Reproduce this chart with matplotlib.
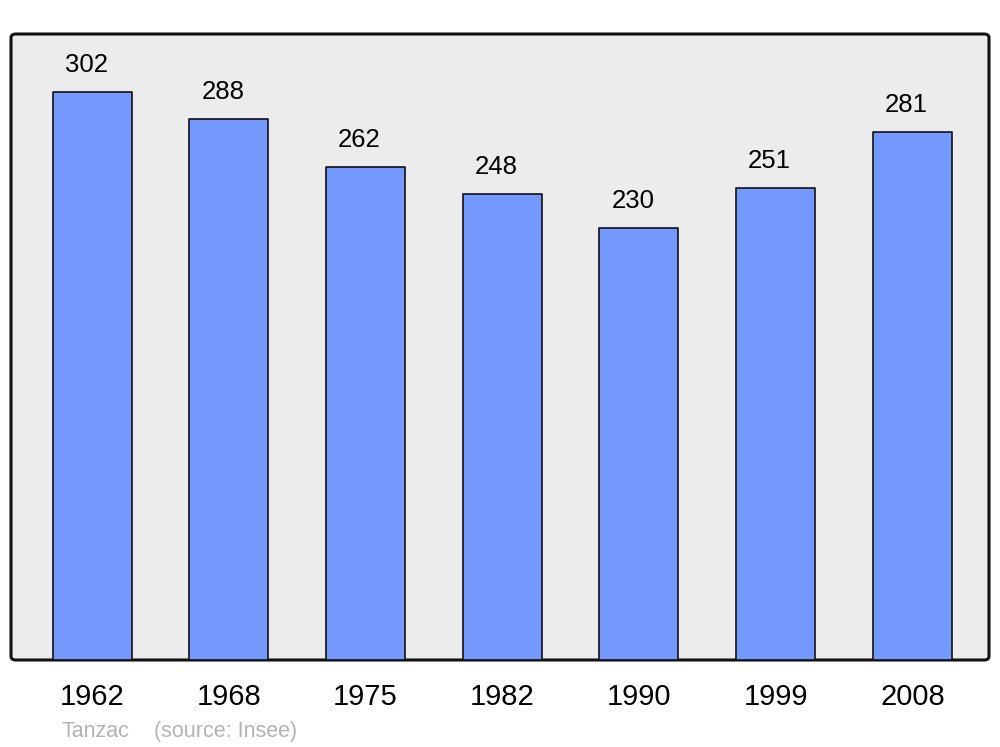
import matplotlib
matplotlib.use("Agg")
import matplotlib.pyplot as plt  # noqa: E402
from matplotlib.patches import FancyBboxPatch  # noqa: E402

plt.rcParams["font.family"] = ["Liberation Sans", "DejaVu Sans"]

years = ["1962", "1968", "1975", "1982", "1990", "1999", "2008"]
population = [302, 288, 262, 248, 230, 251, 281]
commune = "Tanzac"
source = "(source: Insee)"

W, H = 1000, 747
fig = plt.figure(figsize=(W / 100, H / 100), dpi=100)

# cadre gris arrondi
left, right, top, bottom = 11, 989, 34, 660
ax = fig.add_axes([left / W, 1 - bottom / H, (right - left) / W, (bottom - top) / H])
ax.set_facecolor("none")
frame = FancyBboxPatch((left / W, 1 - bottom / H), (right - left) / W, (bottom - top) / H,
                       boxstyle="round,pad=0,rounding_size=0.005",
                       transform=fig.transFigure, facecolor="#ececec",
                       edgecolor="#111111", linewidth=2.2, zorder=-1)
fig.patches.append(frame)

xs = list(range(len(years)))
ax.bar(xs, population, width=0.578, color="#7399ff", edgecolor="#111111",
       linewidth=1.2, joinstyle="round", zorder=2)

for x, v in zip(xs, population):
    ax.annotate(str(v), (x, v), xytext=(-4.3, 19.5), textcoords="offset points",
                ha="center", va="center", fontsize=18.5, color="black")

ax.set_xlim(-0.593, 6.56)
ax.set_ylim(0, 333)
ax.set_xticks(xs)
ax.set_xticklabels(years, fontsize=21)
ax.tick_params(axis="x", length=0, pad=16.5)
ax.set_yticks([])
for s in ax.spines.values():
    s.set_visible(False)

fig.text(61 / W, 1 - 737 / H, commune, fontsize=15.5, color="#b3b3b3", va="baseline")
fig.text(154 / W, 1 - 737 / H, source, fontsize=15.5, color="#b3b3b3", va="baseline")

fig.savefig("out.png", dpi=100)
